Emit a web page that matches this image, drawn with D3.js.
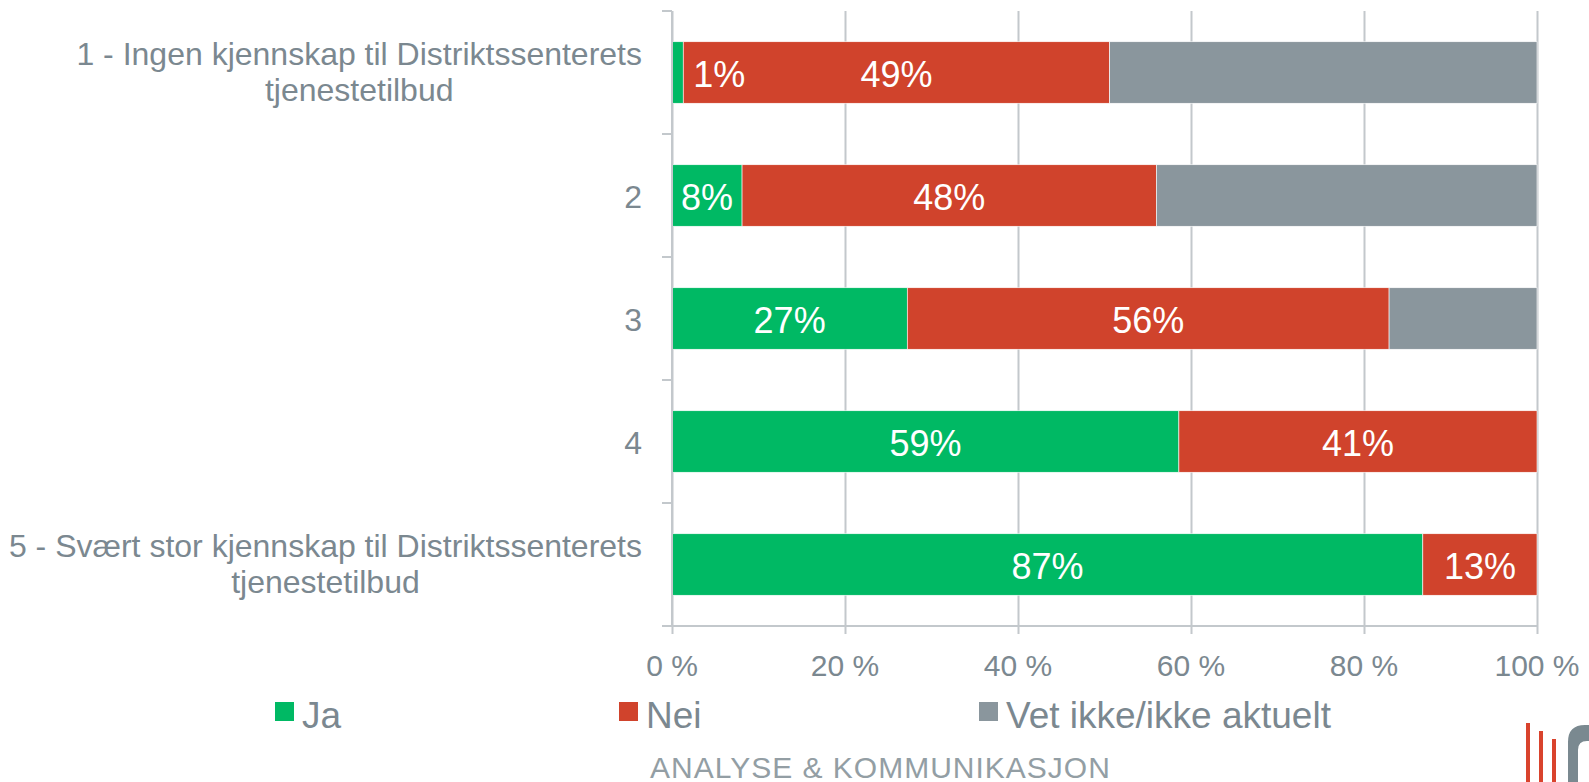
<!DOCTYPE html>
<html>
<head>
<meta charset="utf-8">
<script src="https://cdn.jsdelivr.net/npm/d3@7"></script>
<style>
  body { margin: 0; background: #fff; }
  text { font-family: "Liberation Sans", Arial, sans-serif; }
</style>
</head>
<body>
<script>
// data (percent of respondents)
var categories = ['1', '2', '3', '4', '5'];
var categoryLines = [
  ['1 - Ingen kjennskap til Distriktssenterets', 'tjenestetilbud'],
  ['2'],
  ['3'],
  ['4'],
  ['5 - Svært stor kjennskap til Distriktssenterets', 'tjenestetilbud']
];
var seriesNames = ['Ja', 'Nei', 'Vet ikke/ikke aktuelt'];
var ja  = [1.3, 8.1, 27.2, 58.6, 86.8];
var nei = [49.3, 47.9, 55.7, 41.4, 13.2];
var vet = [49.4, 44.0, 17.1, 0, 0];
var xTicks = [0, 20, 40, 60, 80, 100];
var footer = 'ANALYSE & KOMMUNIKASJON';

var colors = ['#00b964', '#d0432c', '#8a969d'];
var textColor = '#7b8890';
var gridColor = '#c3c8cc';

var width = 1589, height = 782;

var svg = d3.select('body').append('svg')
  .attr('width', width).attr('height', height);

var x = d3.scaleLinear().domain([0, 100]).range([672, 1537]);
var y = d3.scaleBand().domain(categories).range([11, 626])
  .paddingInner(0.5).paddingOuter(0.25);

var rows = categories.map(function (c, i) {
  return { cat: c, Ja: ja[i], Nei: nei[i], Vet: vet[i] };
});
var stack = d3.stack().keys(['Ja', 'Nei', 'Vet']);
var layers = stack(rows);

// vertical grid lines
svg.append('g')
  .attr('transform', 'translate(0,634)')
  .call(d3.axisTop(x).tickValues(xTicks).tickSize(623).tickFormat(''))
  .call(function (g) {
    g.select('.domain').remove();
    g.selectAll('line').attr('stroke', gridColor).attr('stroke-width', 2);
  });

// bars
var layerG = svg.selectAll('g.layer')
  .data(layers)
  .enter().append('g')
  .attr('class', 'layer')
  .attr('fill', function (d, i) { return colors[i]; });

layerG.selectAll('rect')
  .data(function (d) { return d; })
  .enter().append('rect')
  .attr('x', function (d) { return x(d[0]); })
  .attr('y', function (d) { return y(d.data.cat); })
  .attr('width', function (d) { return x(d[1]) - x(d[0]); })
  .attr('height', y.bandwidth())
  .attr('stroke', '#fff')
  .attr('stroke-width', 0.6);

// value labels for Ja and Nei, drawn on top of all bars
var labelData = [];
layers.slice(0, 2).forEach(function (layer) {
  layer.forEach(function (s) { if (s[1] - s[0] > 0) labelData.push(s); });
});
svg.append('g').selectAll('text')
  .data(labelData)
  .enter().append('text')
  .attr('fill', '#fff')
  .attr('font-size', 36)
  .attr('y', function (d) { return y(d.data.cat) + y.bandwidth() / 2 + 14; })
  .text(function (d) { return Math.round(d[1] - d[0]) + '%'; })
  .each(function (d) {
    var t = d3.select(this);
    var w = x(d[1]) - x(d[0]);
    if (this.getComputedTextLength() + 4 > w) {
      t.attr('x', x(d[1]) + 10).attr('text-anchor', 'start');
    } else {
      t.attr('x', (x(d[0]) + x(d[1])) / 2).attr('text-anchor', 'middle');
    }
  });

// category axis
var yAxis = svg.append('g');
yAxis.append('line')
  .attr('x1', x(0)).attr('x2', x(0))
  .attr('y1', y.range()[0]).attr('y2', y.range()[1])
  .attr('stroke', gridColor).attr('stroke-width', 2);
yAxis.selectAll('line.tick')
  .data(d3.range(categories.length + 1))
  .enter().append('line')
  .attr('class', 'tick')
  .attr('x1', x(0) - 10).attr('x2', x(0))
  .attr('y1', function (i) { return y.range()[0] + i * y.step(); })
  .attr('y2', function (i) { return y.range()[0] + i * y.step(); })
  .attr('stroke', gridColor).attr('stroke-width', 2);
// bottom axis line
svg.append('line')
  .attr('x1', x(0) - 10).attr('x2', x(100))
  .attr('y1', y.range()[1]).attr('y2', y.range()[1])
  .attr('stroke', gridColor).attr('stroke-width', 2);

// category labels
categories.forEach(function (c, i) {
  var lines = categoryLines[i];
  var cy = y(c) + y.bandwidth() / 2;
  var g = svg.append('g').attr('fill', textColor).attr('font-size', 32);
  if (lines.length === 1) {
    g.append('text').attr('x', 642).attr('y', cy + 12)
      .attr('text-anchor', 'end').text(lines[0]);
  } else {
    var first = g.append('text').attr('x', 642).attr('y', cy - 7.5)
      .attr('text-anchor', 'end').text(lines[0]);
    var w = first.node().getComputedTextLength();
    g.append('text').attr('x', 642 - w / 2).attr('y', cy + 28)
      .attr('text-anchor', 'middle').text(lines[1]);
  }
});

// x tick labels
svg.selectAll('text.xtick')
  .data(xTicks)
  .enter().append('text')
  .attr('class', 'xtick')
  .attr('x', function (d) { return x(d); })
  .attr('y', 676)
  .attr('text-anchor', 'middle')
  .attr('font-size', 30)
  .attr('fill', textColor)
  .text(function (d) { return d + ' %'; });

// legend
var legendX = [275, 619, 979];
var leg = svg.selectAll('g.legend')
  .data(seriesNames)
  .enter().append('g')
  .attr('class', 'legend')
  .attr('transform', function (d, i) { return 'translate(' + legendX[i] + ',702)'; });
leg.append('rect')
  .attr('width', 19).attr('height', 19)
  .attr('fill', function (d, i) { return colors[i]; });
leg.append('text')
  .attr('x', 27).attr('y', 26)
  .attr('font-size', 37)
  .attr('fill', textColor)
  .text(function (d) { return d; });

// footer
svg.append('text')
  .attr('x', 650).attr('y', 778)
  .attr('font-size', 30)
  .attr('letter-spacing', 1)
  .attr('fill', '#939ea4')
  .text(footer);

// logo fragment
var logo = svg.append('g');
[[1528, 723], [1541, 731], [1554, 739]].forEach(function (p) {
  logo.append('line')
    .attr('x1', p[0]).attr('x2', p[0]).attr('y1', p[1]).attr('y2', height)
    .attr('stroke', '#d9432d').attr('stroke-width', 4);
});
logo.append('path')
  .attr('d', 'M1568,782 V742 Q1568,725 1585,725 H1589 V741 H1587 Q1578,741 1578,750 V782 Z')
  .attr('fill', '#7a8990');
</script>
</body>
</html>
